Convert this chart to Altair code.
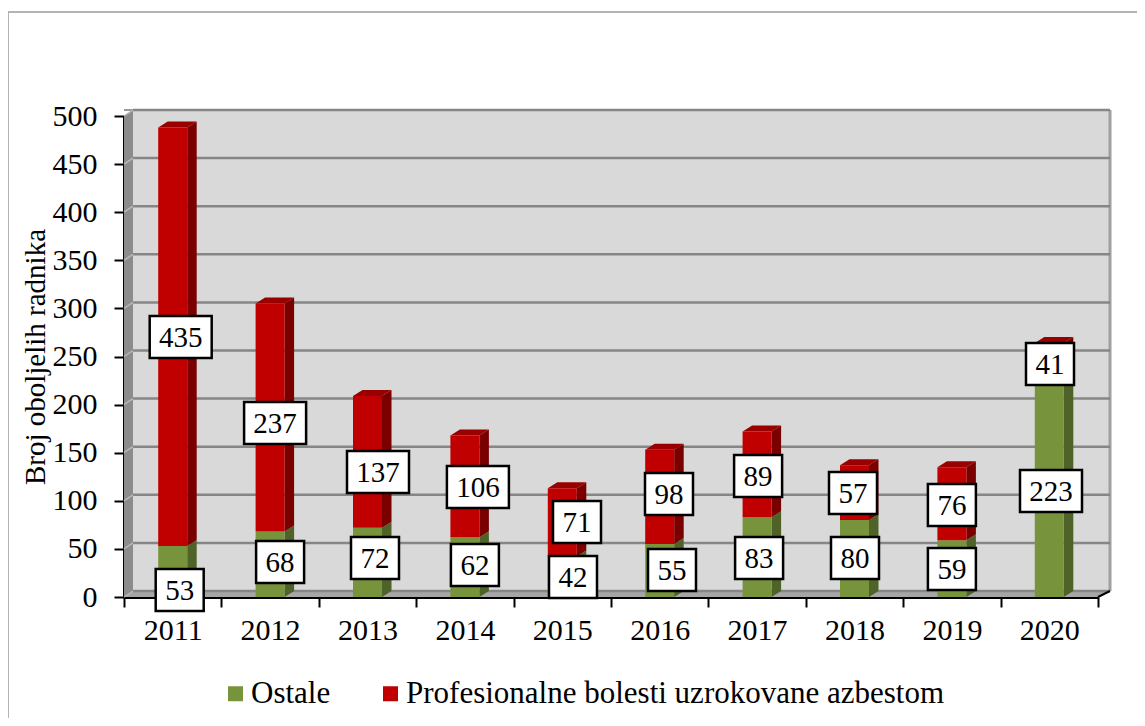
import altair as alt
import pandas as pd

years = ["2011", "2012", "2013", "2014", "2015", "2016", "2017", "2018", "2019", "2020"]
ostale = [53, 68, 72, 62, 42, 55, 83, 80, 59, 223]
azbest = [435, 237, 137, 106, 71, 98, 89, 57, 76, 41]
legend_names = ["Ostale", "Profesionalne bolesti uzrokovane azbestom"]
y_ticks = [0, 50, 100, 150, 200, 250, 300, 350, 400, 450, 500]

# hand placement of the boxed labels, read from the page
green_dx = [7, 10, 7.5, 10, 10.7, 12.3, 2, 0.5, 0, 1.7]
green_py = [590, 562, 558, 565, 577, 570, 558, 558, 569, 491]
red_dx = [8, 5, 10.5, 13, 14.7, 9.3, 1, -1.5, 0, 0.7]
red_py = [337, 423, 472, 487, 522, 494, 476, 493, 505, 364]

W, H = 974, 481
FONT = "Liberation Serif"
GREEN, GREEN_S = "#77933c", "#4f6228"
RED, RED_S, RED_T = "#c00000", "#7a0000", "#990000"
px_x = 10 / W
px_y = 500 / H
bw = 14.5 * px_x
dx = 9.5 * px_x
dy = 6 * px_y

x_num = alt.Scale(domain=[0, 10], nice=False, zero=False)
y_axis = alt.Axis(
    values=y_ticks, title="Broj oboljelih radnika", grid=False,
    labelFont=FONT, labelFontSize=30, labelColor="black", labelPadding=17,
    titleFont=FONT, titleFontSize=29, titleFontWeight="normal", titleColor="black", titlePadding=2,
    domainColor="black", domainWidth=3, tickColor="black", tickWidth=2, tickSize=10,
)
y_scale = alt.Scale(domain=[0, 500], nice=False)


def Y(f="y"):
    return alt.Y(f"{f}:Q", scale=y_scale, axis=y_axis, stack=None)


def X():
    return alt.X("x:Q", scale=x_num, axis=None)


rows_bar, rows_side_g, rows_side_r, rows_top, rows_lab = [], [], [], [], []
for i, yr in enumerate(years):
    c = i + 0.5
    g, r = ostale[i], azbest[i]
    t = g + r
    rows_bar += [
        {"year": yr, "y": 0, "y2": g, "s": legend_names[0]},
        {"year": yr, "y": g, "y2": t, "s": legend_names[1]},
    ]
    rows_side_g += [
        {"year": yr, "x": c + bw, "y": g, "y2": 0},
        {"year": yr, "x": c + bw + dx, "y": g + dy, "y2": dy},
    ]
    rows_side_r += [
        {"year": yr, "x": c + bw, "y": t, "y2": g},
        {"year": yr, "x": c + bw + dx, "y": t + dy, "y2": g + dy},
    ]
    rows_top += [
        {"year": yr, "x": c - bw, "y": t, "y2": t},
        {"year": yr, "x": c - bw + dx, "y": t + dy, "y2": t},
        {"year": yr, "x": c + bw, "y": t + dy, "y2": t},
        {"year": yr, "x": c + bw + dx, "y": t + dy, "y2": t + dy},
    ]
    for v, off, py in ((g, green_dx[i], green_py[i]), (r, red_dx[i], red_py[i])):
        rows_lab.append({
            "x": c + off * px_x,
            "y": (H + 116 - py) * px_y,
            "label": str(v),
            "wide": v >= 100,
        })

one = pd.DataFrame({"a": [0]})
ticks_df = pd.DataFrame({"y": y_ticks})
lab_df = pd.DataFrame(rows_lab)


def shape(path, color):
    return alt.Chart(one).mark_point(
        shape=path, size=4, filled=True, opacity=1, fill=color, stroke=color, strokeWidth=0
    ).encode(x=alt.value(0), y=alt.value(0))


frame_top = alt.Chart(one).mark_rule(color="#b4b4b4", strokeWidth=2).encode(
    x=alt.value(-116), x2=alt.value(1013), y=alt.value(-104))
frame_left = alt.Chart(one).mark_rule(color="#b4b4b4", strokeWidth=2).encode(
    x=alt.value(-116), y=alt.value(-104), y2=alt.value(602))

back = shape(f"M9,-6H{W+12}V{H-6}H9Z", "#d9d9d9")
left_wall = shape(f"M0,0L9,-6V{H-6}L0,{H}Z", "#8c8c8c")
floor = shape(f"M0,{H}L9,{H-6}H{W+12}L{W},{H}Z", "#a6a6a6")
top_edge = alt.Chart(one).mark_rule(color="#9a9a9a", strokeWidth=2).encode(
    x=alt.value(0), x2=alt.value(W + 12), y=alt.value(-6))
right_edge = alt.Chart(one).mark_rule(color="#a0a0a0", strokeWidth=3).encode(
    x=alt.value(W + 12), y=alt.value(-6), y2=alt.value(H - 6))
right_diag = alt.Chart(one).mark_point(
    shape=f"M{W},{H}L{W+12},{H-6}", size=4, filled=False, opacity=1, stroke="black", strokeWidth=2
).encode(x=alt.value(0), y=alt.value(0))

grid = alt.Chart(ticks_df).mark_rule(color="#868686", strokeWidth=2.5, yOffset=-6).encode(
    x=alt.value(9), x2=alt.value(W + 12), y=Y())
grid_diag = alt.Chart(ticks_df).mark_point(
    shape="M0,0L9,-6", size=4, filled=False, opacity=1, stroke="#b8b8b8", strokeWidth=1.5
).encode(x=alt.value(0), y=Y())


def area(rows, color):
    return alt.Chart(pd.DataFrame(rows)).mark_area(color=color, opacity=1).encode(
        x=X(), y=Y(), y2=alt.Y2("y2:Q"), detail="year:N")


bars = alt.Chart(pd.DataFrame(rows_bar)).mark_bar(width=29, opacity=1).encode(
    x=alt.X("year:N", scale=alt.Scale(domain=years, paddingInner=0, paddingOuter=0), axis=alt.Axis(
        title=None, labelAngle=0, tickBand="extent", labelFont=FONT, labelFontSize=30,
        labelColor="black", labelPadding=8, domainColor="black", domainWidth=3,
        tickColor="black", tickWidth=2, tickSize=10)),
    y=Y(), y2=alt.Y2("y2:Q"),
    color=alt.Color("s:N", scale=alt.Scale(domain=legend_names, range=[GREEN, RED]), legend=alt.Legend(
        title=None, orient="none", legendX=96, legendY=562, direction="horizontal", columns=2,
        symbolType="square", symbolSize=225, symbolStrokeWidth=0, symbolOpacity=1, labelFont=FONT,
        labelFontSize=31, labelColor="black", columnPadding=44, labelOffset=0, labelLimit=800)),
)


def boxes(wide, path):
    return alt.Chart(lab_df[lab_df["wide"] == wide]).mark_point(
        shape=path, size=4, filled=True, opacity=1, fill="white", stroke="black", strokeWidth=2.5
    ).encode(x=X(), y=Y())


box_w = boxes(True, "M-31,-21H31V21H-31Z")
box_n = boxes(False, "M-24,-21H24V21H-24Z")
texts = alt.Chart(lab_df).mark_text(font=FONT, fontSize=29, color="black", baseline="middle", dy=1).encode(
    x=X(), y=Y(), text="label:N")

chart = alt.layer(
    frame_top, frame_left, back, left_wall, floor, top_edge, right_edge, grid, grid_diag, right_diag,
    area(rows_side_g, GREEN_S), area(rows_side_r, RED_S), area(rows_top, RED_T), bars,
    box_w, box_n, texts,
).resolve_scale(x="independent").properties(
    width=W, height=H, background="white",
    padding={"left": 116, "top": 108, "right": 39, "bottom": 121},
    autosize=alt.AutoSizeParams(type="none"),
).configure_view(stroke=None)

chart.save("out.html", embed_options={"renderer": "svg", "actions": False})
